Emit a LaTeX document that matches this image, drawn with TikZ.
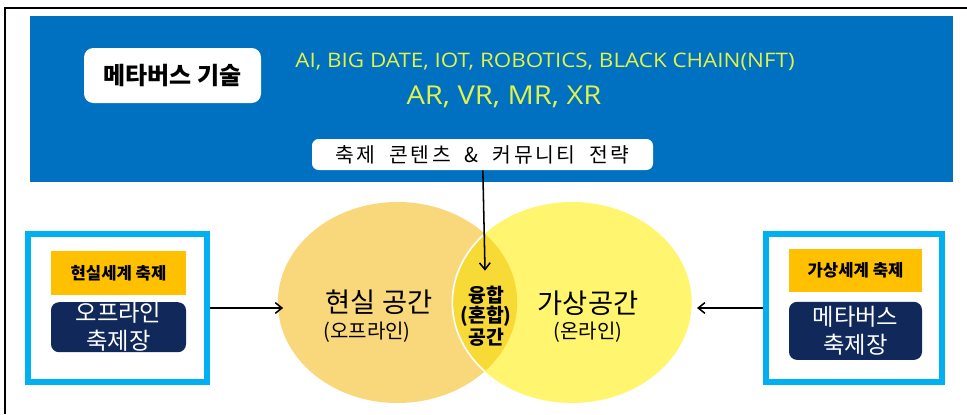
\documentclass[tikz,border=0pt]{standalone}
\usepackage{fontspec}
\setmainfont{Noto Sans CJK KR}
\newfontfamily\latinfont[FakeStretch=1.12]{Open Sans}
\newfontfamily\spacedfont[LetterSpace=12]{Noto Sans CJK KR}
\usepackage[dvipsnames]{xcolor}
\usetikzlibrary{positioning, arrows.meta, shapes.geometric}
\definecolor{bandblue}{HTML}{0070C0}
\definecolor{techyellow}{HTML}{E2F24A}
\definecolor{framecyan}{HTML}{00B0F0}
\definecolor{festorange}{HTML}{FFC000}
\definecolor{venuenavy}{HTML}{10285A}
\definecolor{realorange}{HTML}{F9D87C}
\definecolor{virtyellow}{HTML}{FFF56E}
\definecolor{mixyellow}{HTML}{F8DA36}
\tikzset{
    white box/.style={
        fill=white,
        rounded corners=7pt,
        align=center,
        inner sep=0pt
    },
    tech text/.style={
        text=techyellow,
        inner sep=0pt
    },
    side frame/.style={
        draw=framecyan,
        line width=4.5pt,
        inner sep=0pt
    },
    fest title/.style={
        fill=festorange,
        font=\bfseries\fontsize{12.5}{14}\selectfont,
        inner sep=0pt
    },
    venue box/.style={
        fill=venuenavy,
        text=white,
        rounded corners=6pt,
        align=center,
        font=\fontsize{17.5}{21}\selectfont,
        inner sep=0pt
    },
    space oval/.style={
        ellipse,
        minimum width=179.5pt,
        minimum height=150.75pt,
        inner sep=0pt,
        outer sep=0pt
    },
    link/.style={-{Straight Barb[length=5pt,width=8pt]}, line width=1.15pt}
}
\begin{document}
\begin{tikzpicture}[x=0.75pt,y=-0.75pt]
  \useasboundingbox (0,0) rectangle (967,414);
  \draw[line width=0.9pt] (5,414) |- (967,8);
  \fill[bandblue] (30,16) rectangle (953,182);

  \node[white box, minimum width=132.75pt, minimum height=41.25pt,
        font=\bfseries\fontsize{18}{20}\selectfont] (tech) at (172.5,75.5) {메타버스 기술};
  \node[tech text, font=\latinfont\fontsize{15}{17}\selectfont] (techA) at (545,62)
        {AI, BIG DATE, IOT, ROBOTICS, BLACK CHAIN(NFT)};
  \node[tech text, font=\latinfont\fontsize{19.5}{21}\selectfont] (techB) at (504,97)
        {AR, VR, MR, XR};
  \node[white box, rounded corners=5pt, minimum width=255.75pt, minimum height=23.25pt,
        font=\spacedfont\fontsize{15.3}{17}\selectfont] (strategy) at (482.5,154.5)
        {축제\ \ 콘텐츠\ \ \&\ \ 커뮤니티\ \ 전략};

  % real / virtual spaces
  \node[space oval, fill=realorange] (real) at (397.5,302.5) {};
  \node[space oval, fill=virtyellow] (virt) at (572,302.5) {};
  \begin{scope}
    \clip (real.center) ellipse [x radius=89.75pt, y radius=75.4pt];
    \path[fill=mixyellow, draw=white, line width=1.2pt] (virt.center)
      ellipse [x radius=89.75pt, y radius=75.4pt];
  \end{scope}
  \node[font=\fontsize{20.5}{22}\selectfont] (realname) at (379,302) {현실\ 공간};
  \node[font=\fontsize{15}{17}\selectfont] (realsub) at (367,332) {(오프라인)};
  \node[font=\fontsize{20.5}{22}\selectfont] (virtname) at (588,303) {가상공간};
  \node[font=\fontsize{15}{17}\selectfont] (virtsub) at (588,332) {(온라인)};
  \node[align=center, font=\bfseries\fontsize{14.5}{15}\selectfont] (mix) at (486,316)
        {융합\\(혼합)\\공간};

  % festival panels
  \node[side frame, minimum width=134.25pt, minimum height=111pt] (lframe) at (117.5,308) {};
  \node[fest title, minimum width=101.25pt, minimum height=33pt] (lfest) at (118.5,273) {현실세계 축제};
  \node[venue box, minimum width=101.25pt, minimum height=37.5pt, below=5pt of lfest] (lvenue) {오프라인\\축제장};
  \node[side frame, minimum width=132pt, minimum height=111pt] (rframe) at (854,308) {};
  \node[fest title, minimum width=99.75pt, minimum height=32.25pt] (rfest) at (855.5,270.5) {가상세계 축제};
  \node[venue box, minimum width=99.75pt, minimum height=43.5pt, below=7pt of rfest] (rvenue) {메타버스\\축제장};

  \draw[link, shorten >=8pt] (strategy) -- (mix);
  \draw[link] (lframe.east) -- ([xshift=4pt]real.west |- lframe.east);
  \draw[link] (rframe.west) -- ([xshift=4pt]virt.east |- rframe.west);
\end{tikzpicture}
\end{document}
